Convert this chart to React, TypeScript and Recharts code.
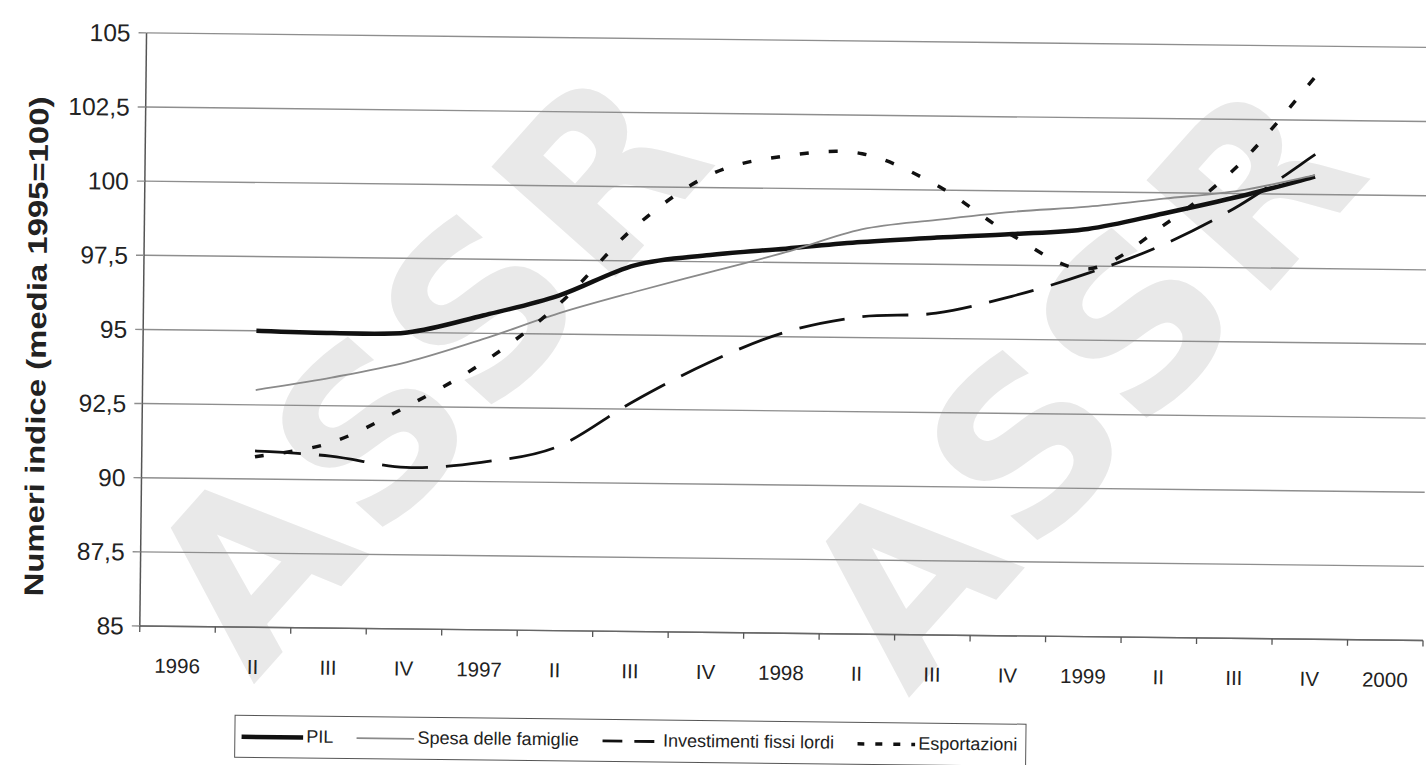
import React from "react";
import { LineChart, Line, XAxis, YAxis, CartesianGrid, Legend } from "recharts";

// ---- data ----
const periodIds = [
  "1996-I", "1996-II", "1996-III", "1996-IV",
  "1997-I", "1997-II", "1997-III", "1997-IV",
  "1998-I", "1998-II", "1998-III", "1998-IV",
  "1999-I", "1999-II", "1999-III", "1999-IV",
  "2000-I",
];
const tickLabels = [
  "1996", "II", "III", "IV",
  "1997", "II", "III", "IV",
  "1998", "II", "III", "IV",
  "1999", "II", "III", "IV",
  "2000",
];
const pil = [null, 95.0, 94.95, 95.0, 95.6, 96.3, 97.35, 97.73, 97.97, 98.22, 98.4, 98.55, 98.75, 99.3, 99.9, 100.6, null];
const spesa = [null, 93.0, 93.45, 94.0, 94.8, 95.7, 96.45, 97.15, 97.85, 98.65, 99.0, 99.3, 99.5, 99.8, 100.1, 100.65, null];
const investimenti = [null, 90.95, 90.8, 90.45, 90.65, 91.2, 92.75, 94.1, 95.15, 95.7, 95.85, 96.45, 97.25, 98.25, 99.6, 101.35, null];
const esportazioni = [null, 90.75, 91.25, 92.5, 94.0, 96.0, 98.65, 100.45, 101.1, 101.2, 100.15, 98.5, 97.4, 98.9, 101.0, 104.0, null];
const yTicks = [85, 87.5, 90, 92.5, 95, 97.5, 100, 102.5, 105];

const seriesKeys = ["pil", "spesa", "investimenti", "esportazioni"];
const seriesNames = ["PIL", "Spesa delle famiglie", "Investimenti fissi lordi", "Esportazioni"];
const watermarkText = "ASSR";

const data = periodIds.map((id, i) => ({
  id,
  pil: pil[i],
  spesa: spesa[i],
  investimenti: investimenti[i],
  esportazioni: esportazioni[i],
}));

// ---- layout / style ----
const W = 1440;
const H = 765;
const PLOT_LEFT = 143.2;
const PLOT_TOP = 39.2;
const PLOT_BOTTOM = 632.3;
const PLOT_RIGHT = 1426.5;
const HALF_BAND = (PLOT_RIGHT - PLOT_LEFT) / periodIds.length / 2;
const FONT = "'Liberation Sans', Arial, sans-serif";

const seriesStyles: Record<string, any> = {
  pil: { stroke: "#111", strokeWidth: 4.5 },
  spesa: { stroke: "#8a8a8a", strokeWidth: 1.8 },
  investimenti: { stroke: "#111", strokeWidth: 2.8, strokeDasharray: "46 18" },
  esportazioni: { stroke: "#111", strokeWidth: 3.5, strokeDasharray: "9 20" },
};
const legendSample: Record<string, { w: number; dash?: string }> = {
  pil: { w: 62 },
  spesa: { w: 58 },
  investimenti: { w: 58, dash: "20 12" },
  esportazioni: { w: 58, dash: "7 11" },
};
const watermarks = [
  { x: 425, y: 372 },
  { x: 1080, y: 378 },
];

// Excel-like smoothing (Catmull-Rom)
const smooth = (context: any) => {
  let pts: number[][] = [];
  return {
    areaStart() {},
    areaEnd() {},
    lineStart() {
      pts = [];
    },
    point(x: number, y: number) {
      pts.push([+x, +y]);
    },
    lineEnd() {
      const n = pts.length;
      if (!n) return;
      context.moveTo(pts[0][0], pts[0][1]);
      if (n === 1) {
        context.lineTo(pts[0][0], pts[0][1]);
        return;
      }
      for (let i = 0; i < n - 1; i++) {
        const p0 = pts[i - 1] || pts[i];
        const p1 = pts[i];
        const p2 = pts[i + 1];
        const p3 = pts[i + 2] || p2;
        context.bezierCurveTo(
          p1[0] + (p2[0] - p0[0]) / 6,
          p1[1] + (p2[1] - p0[1]) / 6,
          p2[0] - (p3[0] - p1[0]) / 6,
          p2[1] - (p3[1] - p1[1]) / 6,
          p2[0],
          p2[1]
        );
      }
    },
  };
};

const XTick = (props: any) => {
  const { x, payload } = props;
  const idx = payload.index;
  const last = idx === periodIds.length - 1;
  return (
    <g>
      <line x1={x - HALF_BAND} x2={x - HALF_BAND} y1={PLOT_BOTTOM} y2={PLOT_BOTTOM + 6} stroke="#555" strokeWidth={1.3} />
      {last && (
        <line x1={x + HALF_BAND} x2={x + HALF_BAND} y1={PLOT_BOTTOM} y2={PLOT_BOTTOM + 6} stroke="#555" strokeWidth={1.3} />
      )}
      <text x={x} y={679} textAnchor="middle" fontSize={20.5} fill="#222" fontFamily={FONT}>
        {tickLabels[idx]}
      </text>
    </g>
  );
};

const YTitle = () => (
  <text
    x={37}
    y={354}
    transform="rotate(-90, 37, 354)"
    textAnchor="middle"
    dominantBaseline="central"
    fontSize={27}
    fontWeight="bold"
    fill="#222"
    fontFamily={FONT}
    textLength={500}
    lengthAdjust="spacingAndGlyphs"
  >
    Numeri indice (media 1995=100)
  </text>
);

const renderLegend = (props: any) => {
  const items = [...(props.payload || [])].sort(
    (a: any, b: any) => seriesKeys.indexOf(a.dataKey) - seriesKeys.indexOf(b.dataKey)
  );
  return (
    <div
      style={{
        boxSizing: "border-box",
        width: 792,
        height: 43,
        border: "1.5px solid #555",
        display: "flex",
        alignItems: "center",
        justifyContent: "space-between",
        padding: "0 8px 0 6px",
        fontFamily: FONT,
        fontSize: 18,
        color: "#222",
        background: "#fff",
        whiteSpace: "nowrap",
      }}
    >
      {items.map((entry: any) => {
        const s = legendSample[entry.dataKey];
        const st = seriesStyles[entry.dataKey];
        return (
          <span key={entry.dataKey} style={{ display: "flex", alignItems: "center", flexShrink: 0 }}>
            <svg width={s.w} height={12} style={{ marginRight: 3 }}>
              <line x1={0} y1={6} x2={s.w} y2={6} stroke={entry.color} strokeWidth={st.strokeWidth} strokeDasharray={s.dash} />
            </svg>
            <span>{entry.value}</span>
          </span>
        );
      })}
    </div>
  );
};

export default function App() {
  return (
    <div style={{ position: "fixed", left: 0, top: 0, width: 1426, height: 765, overflow: "hidden", background: "#fff" }}>
      <div
        style={{
          position: "relative",
          width: W,
          height: H,
          transform: "rotate(0.65deg)",
          transformOrigin: "700px 330px",
        }}
      >
        <svg width={W} height={H} style={{ position: "absolute", left: 0, top: 0 }}>
          {watermarks.map((m, i) => (
            <text
              key={i}
              x={m.x}
              y={m.y}
              dy="0.36em"
              transform={`rotate(-49, ${m.x}, ${m.y})`}
              textAnchor="middle"
              fontSize={228}
              fontWeight="bold"
              fontFamily="'DejaVu Sans', sans-serif"
              fill="#e9e9e9"
              textLength={700}
              lengthAdjust="spacing"
            >
              {watermarkText}
            </text>
          ))}
        </svg>
        <div style={{ position: "absolute", left: 0, top: 0 }}>
          <LineChart
            width={W}
            height={H}
            data={data}
            margin={{ top: PLOT_TOP, right: W - PLOT_RIGHT, left: 0, bottom: 0 }}
          >
            <CartesianGrid vertical={false} stroke="#8e8e8e" strokeWidth={1.4} />
            <XAxis
              dataKey="id"
              scale="band"
              height={H - PLOT_BOTTOM}
              interval={0}
              tick={<XTick />}
              tickLine={false}
              axisLine={{ stroke: "#666", strokeWidth: 1.4 }}
            />
            <YAxis
              domain={[85, 105]}
              ticks={yTicks}
              interval={0}
              width={PLOT_LEFT}
              tickSize={8}
              tickMargin={8}
              tickFormatter={(v: number) => String(v).replace(".", ",")}
              tick={{ fontSize: 24.5, fill: "#222", fontFamily: FONT }}
              tickLine={{ stroke: "#8e8e8e", strokeWidth: 1.4 }}
              axisLine={{ stroke: "#555", strokeWidth: 1.5 }}
              label={{ content: () => <YTitle /> }}
            />
            <Legend
              layout="horizontal"
              verticalAlign="middle"
              align="center"
              wrapperStyle={{ position: "absolute", left: 239, top: 720, width: 792, height: 43 }}
              content={renderLegend}
            />
            {seriesKeys.map((k, i) => (
              <Line
                key={k}
                dataKey={k}
                name={seriesNames[i]}
                type={smooth as any}
                {...seriesStyles[k]}
                dot={false}
                activeDot={false}
                isAnimationActive={false}
              />
            ))}
          </LineChart>
        </div>
      </div>
    </div>
  );
}
